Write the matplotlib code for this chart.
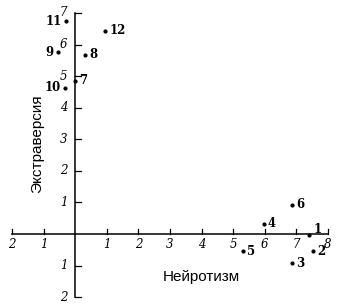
import matplotlib
matplotlib.use("Agg")
import matplotlib.pyplot as plt

# points
labels = ['1', '2', '3', '4', '5', '6', '7', '8', '9', '10', '11', '12']
neuro = [7.4, 7.52, 6.86, 5.97, 5.3, 6.86, 0.0, 0.32, -0.54, -0.32, -0.29, 0.95]
extra = [-0.02, -0.54, -0.92, 0.32, -0.54, 0.92, 4.86, 5.68, 5.75, 4.63, 6.73, 6.44]
# where each number sits relative to its dot (points)
offs = {'1': (3, 4), '11': (-3, 0), '9': (-3, 0), '10': (-3, 0)}

xticks = [-2, -1, 1, 2, 3, 4, 5, 6, 7, 8]
yticks = [-2, -1, 1, 2, 3, 4, 5, 6, 7]

fig = plt.figure(figsize=(3.4, 3.06), dpi=100)
ax = fig.add_axes([0, 0, 1, 1])
ax.set_xlim(-2.38, 8.38)
ax.set_ylim(-2.28, 7.41)

ax.plot([-2, 8], [0, 0], color='black', lw=1.1)
ax.plot([0, 0], [-2, 7], color='black', lw=1.1)
tk = dict(color='black', lw=0.9)
for t in xticks:
    ax.plot([t, t], [0, 0.17], **tk)
    ax.text(t, -0.12, str(abs(t)), ha='center', va='top', fontsize=8.5,
            family='DejaVu Serif', style='italic')
for t in yticks:
    ax.plot([0, 0.17], [t, t], **tk)
    ax.text(-0.25, t, str(abs(t)), ha='right', va='center', fontsize=8.5,
            family='DejaVu Serif', style='italic')

ax.scatter(neuro, extra, s=4, color='black', zorder=3)
for lab, x, y in zip(labels, neuro, extra):
    dx, dy = offs.get(lab, (3, 0))
    ha = 'right' if dx < 0 else 'left'
    ax.annotate(lab, (x, y), xytext=(dx, dy), textcoords='offset points',
                ha=ha, va='center', fontsize=8.5, fontweight='bold',
                family='DejaVu Serif')

ax.text(4.0, -1.36, 'Нейротизм', ha='center', va='center', fontsize=11,
        family='Liberation Sans')
ax.text(-1.2, 2.85, 'Экстраверсия', ha='center', va='center', rotation=90,
        fontsize=11, family='Liberation Sans')

ax.axis('off')
fig.savefig('out.png', dpi=100)
